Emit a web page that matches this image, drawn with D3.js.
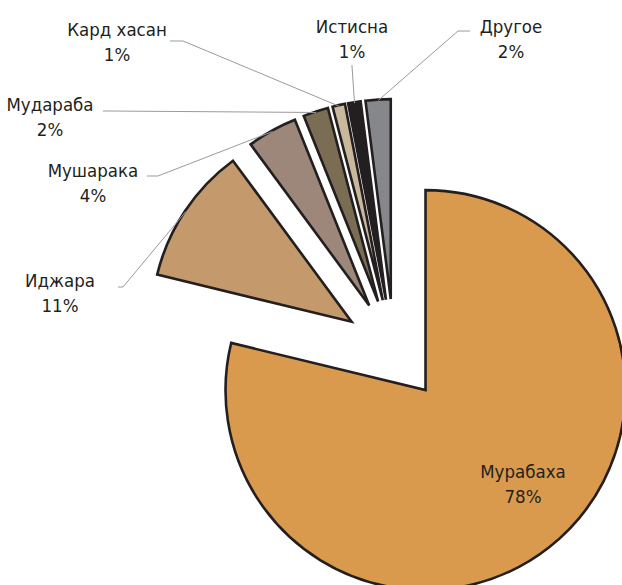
<!DOCTYPE html>
<html>
<head>
<meta charset="utf-8">
<script src="https://cdn.jsdelivr.net/npm/d3@7"></script>
<style>
  body { margin: 0; background: #fff; }
  svg { display: block; }
</style>
</head>
<body>
<svg></svg>
<script>
const svgWidth = 622;
const svgHeight = 585;

// data
const categories = ["Мурабаха", "Иджара", "Мушарака", "Мудараба", "Кард хасан", "Истисна", "Другое"];
const shares = [78, 11, 4, 2, 1, 1, 2];
const colors = ["#d99a4d", "#c4996b", "#9c877a", "#7a6d53", "#c9b89b", "#231f20", "#85878a"];

// label layout: text centre, first baseline, leader start and elbow (null = inside slice)
const labelLayout = [
  {x: 523, y: 478, line: null},
  {x: 60, y: 287, line: [[118, 287], [123, 287]]},
  {x: 93, y: 177, line: [[147, 176], [158, 176]]},
  {x: 50, y: 111, line: [[103, 111], [108, 111]]},
  {x: 117, y: 36, line: [[170, 41], [183, 41]]},
  {x: 352, y: 33, line: [[352, 65], [352, 66]]},
  {x: 511, y: 33, line: [[470, 31], [458, 31]]}
];

const svg = d3.select("svg")
    .attr("width", svgWidth)
    .attr("height", svgHeight);

const cx = 394, cy = 350;
const radius = 200;
const explode = 51;

const g = svg.append("g")
    .attr("transform", "translate(" + cx + "," + cy + ")");

const pie = d3.pie().sort(null).value(d => d);
const arcs = pie(shares);

const arc = d3.arc().innerRadius(0).outerRadius(radius);

const offset = d => {
    const a = (d.startAngle + d.endAngle) / 2;
    return [explode * Math.sin(a), -explode * Math.cos(a)];
};

g.selectAll("path.slice")
    .data(arcs)
    .enter().append("path")
    .attr("class", "slice")
    .attr("transform", d => "translate(" + offset(d) + ")")
    .attr("d", arc)
    .attr("fill", (d, i) => colors[i])
    .attr("stroke", "#231f20")
    .attr("stroke-width", 2.6)
    .attr("stroke-linejoin", "miter");

// leader lines
const leader = d3.line();
arcs.forEach((d, i) => {
    const lay = labelLayout[i];
    if (!lay.line) return;
    const a = (d.startAngle + d.endAngle) / 2;
    const rr = radius + explode - 1;
    const end = [cx + rr * Math.sin(a), cy - rr * Math.cos(a)];
    svg.append("path")
        .attr("d", leader([lay.line[0], lay.line[1], end]))
        .attr("fill", "none")
        .attr("stroke", "#9a9a9a")
        .attr("stroke-width", 1);
});

// labels
const labels = svg.append("g")
    .attr("font-family", "'Liberation Sans Narrow', 'DejaVu Sans Condensed', 'Roboto Condensed', sans-serif")
    .attr("font-size", 18.5)
    .attr("fill", "#231f20")
    .attr("text-anchor", "middle")
    .selectAll("text")
    .data(arcs)
    .enter().append("text")
    .attr("x", (d, i) => labelLayout[i].x)
    .attr("y", (d, i) => labelLayout[i].y);

labels.append("tspan")
    .attr("x", (d, i) => labelLayout[i].x)
    .text((d, i) => categories[i]);

labels.append("tspan")
    .attr("x", (d, i) => labelLayout[i].x)
    .attr("dy", 25)
    .text(d => d.data + "%");
</script>
</body>
</html>
